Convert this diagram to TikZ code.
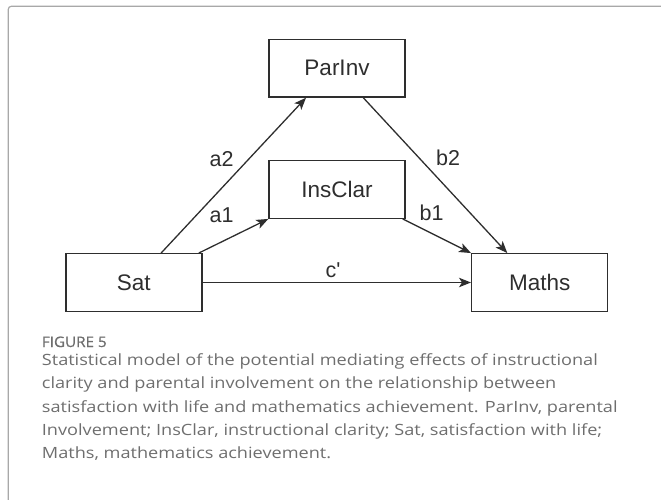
\documentclass[tikz,border=0pt]{standalone}
\usepackage{fontspec}
\setmainfont{Liberation Sans}
\newfontfamily\capfont{Open Sans}[FakeStretch=1.17]
\newfontfamily\capfontb{Open Sans}[FakeBold=0.7,FakeStretch=1.05]
\usetikzlibrary{arrows.meta,calc}
\definecolor{boxline}{HTML}{2E2E2E}
\definecolor{captxt}{HTML}{6E6E6E}
\definecolor{framec}{HTML}{A8A8A8}
\tikzset{
  varbox/.style={draw=boxline,line width=1.4pt,minimum width=136pt,minimum height=57.5pt,inner sep=0pt,
    text=boxline,font=\fontsize{22.5}{26}\selectfont},
  path/.style={draw=boxline,line width=1.3pt,-{Stealth[length=12pt,width=9.5pt,inset=3pt]}},
  lab/.style={text=boxline,font=\fontsize{21.5}{25}\selectfont,inner sep=0pt},
  capline/.style={anchor=base west,inner sep=0pt,text=captxt,font=\capfont\fontsize{15.5}{18}\selectfont},
}
\begin{document}
\begin{tikzpicture}[x=1pt,y=1pt]
\useasboundingbox (0,0) rectangle (661,499);
\draw[framec,line width=1.2pt,rounded corners=3pt] (8.3,-2) -- (8.3,492.7) -- (664,492.7);
\node[varbox] (par) at (337,430.7) {ParInv};
\node[varbox] (ins) at (337,309.5) {InsClar};
\node[varbox] (sat) at (133.8,216.5) {Sat};
\node[varbox] (mat) at (539.7,216.5) {Maths};
\draw[path] ([xshift=96pt]sat.north west) -- ([xshift=37.7pt]par.south west);
\draw[path] ([xshift=-3.7pt]sat.north east) -- (ins.south west);
\draw[path] ([xshift=-3pt]ins.south east) -- (mat.north west);
\draw[path] ([xshift=95pt]par.south west) -- ([xshift=36.3pt]mat.north west);
\draw[path] (sat.east) -- (mat.west);
\node[lab] (la2) at (221.7,339.7) {a2};
\node[lab] (la1) at (221.7,284) {a1};
\node[lab] (lb2) at (448,341) {b2};
\node[lab] (lb1) at (431.7,285.7) {b1};
\node[lab] (lc) at (333,229) {c\textquotesingle};
\node[capline,font=\capfontb\fontsize{14.5}{17}\selectfont] (fig) at (41.7,152) {FIGURE 5};
\node[capline] (c1) at (41.7,133.3) {Statistical model of the potential mediating effects of instructional};
\node[capline] (c2) at (41.7,110.15) {clarity and parental involvement on the relationship between};
\node[capline] (c3) at (41.7,87) {satisfaction with life and mathematics achievement. ParInv, parental};
\node[capline] (c4) at (41.7,63.85) {Involvement; InsClar, instructional clarity; Sat, satisfaction with life;};
\node[capline] (c5) at (41.7,40.7) {Maths, mathematics achievement.};
\end{tikzpicture}
\end{document}
